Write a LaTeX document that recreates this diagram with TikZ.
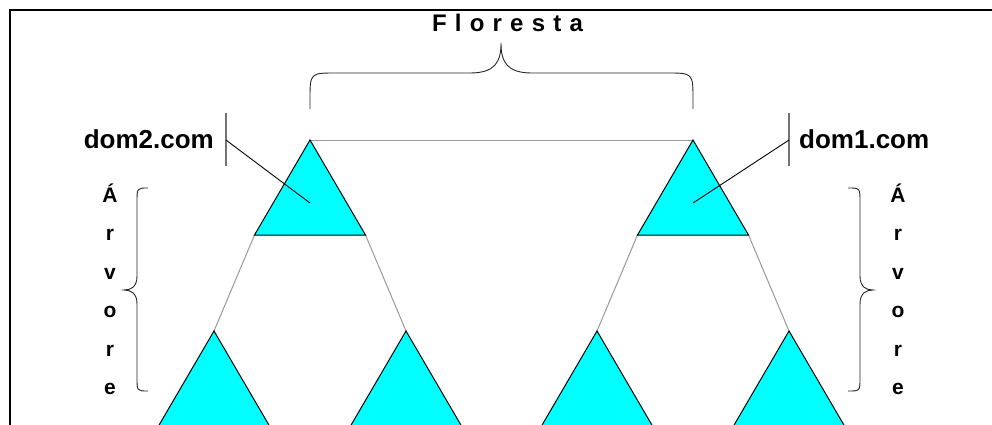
\documentclass[tikz,border=0pt]{standalone}
\usepackage{fontspec}
\setmainfont{Liberation Sans}
\definecolor{tricyan}{RGB}{0,255,255}
\begin{document}
\begin{tikzpicture}[x=1pt,y=-1pt,
  tri/.style={fill=tricyan, draw=black, line width=1pt, line join=miter},
  link/.style={draw=black!40, line width=1pt},
  bar/.style={draw=black!55, line width=1.3pt},
  callout/.style={draw=black, line width=0.9pt},
  brace/.style={draw=black!85, line width=0.9pt},
  frame/.style={draw=black, line width=2pt},
  domlabel/.style={inner sep=0pt, font={\bfseries\fontsize{26}{30}\selectfont}},
  arvlabel/.style={inner sep=0pt, anchor=base, font={\bfseries\fontsize{21}{24}\selectfont}},
  florlabel/.style={inner sep=0pt, anchor=base, font={\bfseries\fontsize{24}{28}\selectfont\spaceskip=8.2pt plus 0pt minus 0pt}}]
\useasboundingbox (0,0) rectangle (992,424);
\clip (0,0) rectangle (992,424);
% frame
\draw[frame] (10,430) -- (10,10) -- (1000,10);
% triangle corners
\coordinate (T1) at (310,140); \coordinate (T1l) at (254.5,235); \coordinate (T1r) at (365.5,235);
\coordinate (T2) at (693,140); \coordinate (T2l) at (637.5,235); \coordinate (T2r) at (748.5,235);
\coordinate (B1) at (214,331); \coordinate (B2) at (406,331);
\coordinate (B3) at (597,331); \coordinate (B4) at (789,331);
% connectors
\draw[link] (T1) -- (T2);
\draw[link] (T1l) -- (B1);
\draw[link] (T1r) -- (B2);
\draw[link] (T2l) -- (B3);
\draw[link] (T2r) -- (B4);
% triangles
\draw[tri] (T1) -- (T1l) -- (T1r) -- cycle;
\draw[tri] (T2) -- (T2l) -- (T2r) -- cycle;
\foreach \b in {B1,B2,B3,B4}{
  \draw[tri] (\b) -- ++(-55.5,95) -- ++(111,0) -- cycle;
}
% callouts
\coordinate (c1t) at (226,113); \coordinate (c1b) at (226,166); \coordinate (c1m) at (226,140);
\coordinate (c1e) at (310,203);
\coordinate (c2t) at (789,113); \coordinate (c2b) at (789,166); \coordinate (c2m) at (789,140);
\coordinate (c2e) at (693,203);
\draw[bar] (c1t) -- (c1b);
\draw[bar] (c2t) -- (c2b);
\draw[callout] (c1m) -- (c1e);
\draw[callout] (c2m) -- (c2e);
\node[domlabel, anchor=base east] (dom2) at (214,148) {dom2.com};
\node[domlabel, anchor=base west] (dom1) at (799,148) {dom1.com};
% Floresta brace
\draw[brace] (310,109) -- (310,100) .. controls (310,73) .. (336,73) -- (470,73)
  .. controls (495,73) and (501,62) .. (501,43)
  .. controls (501,62) and (507,73) .. (532,73) -- (667,73)
  .. controls (693,73) .. (693,100) -- (693,109);
\node[florlabel] (flor) at (507.5,31) {F l o r e s t a};
% Arvore braces
\draw[brace] (148,188) .. controls (137,188) .. (137,202) -- (137,276)
  .. controls (137,287) and (131,290) .. (124,290)
  .. controls (131,290) and (137,293) .. (137,304) -- (137,378)
  .. controls (137,391) .. (148,391);
\draw[brace] (848,188) .. controls (860,188) .. (860,202) -- (860,276)
  .. controls (860,287) and (866,290) .. (873,290)
  .. controls (866,290) and (860,293) .. (860,304) -- (860,378)
  .. controls (860,391) .. (848,391);
\foreach \ch/\yy [count=\i] in {Á/202,r/240.5,v/279,o/317.5,r/356,e/394}{
  \node[arvlabel] (arvL\i) at (110,\yy) {\ch};
  \node[arvlabel] (arvR\i) at (898,\yy) {\ch};
}
\end{tikzpicture}
\end{document}
